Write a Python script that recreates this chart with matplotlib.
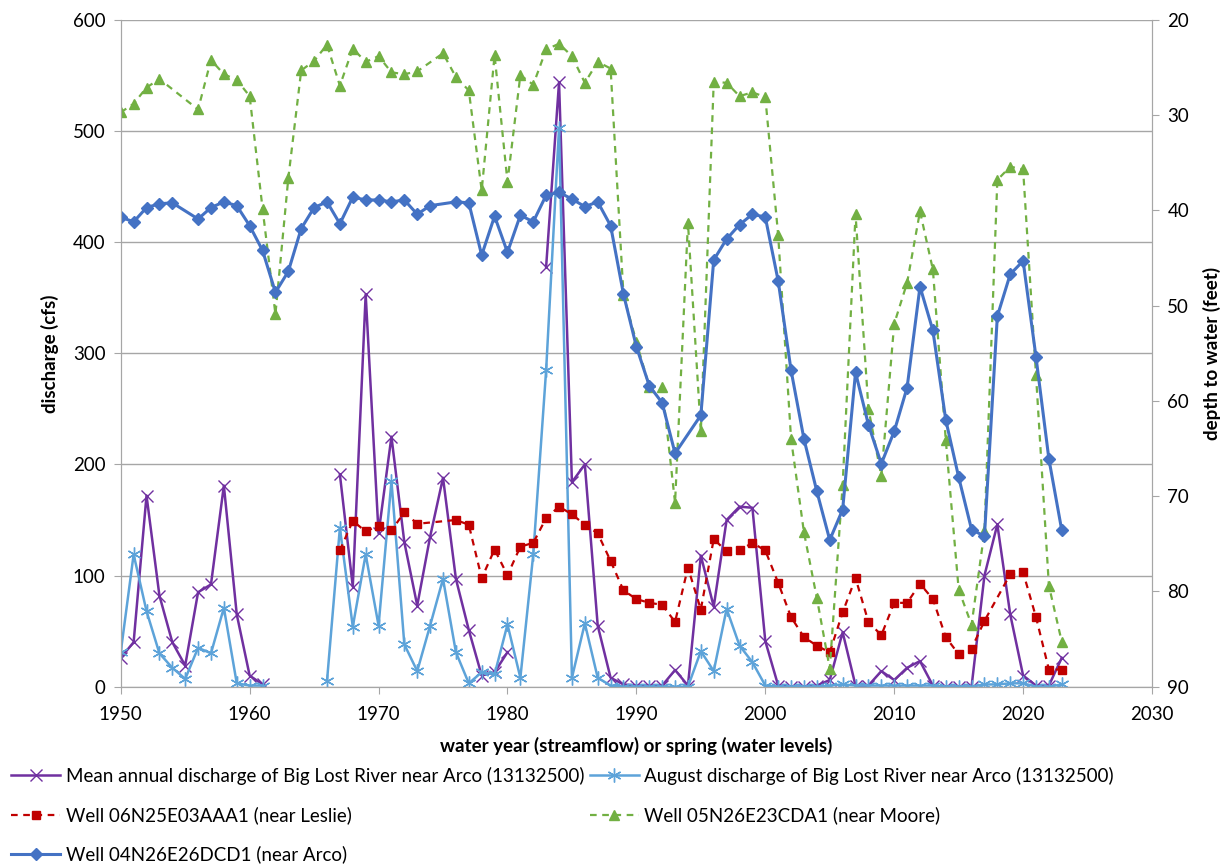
import numpy as np
import matplotlib
matplotlib.use("Agg")
import matplotlib.pyplot as plt

plt.rcParams['font.family'] = ['Lato', 'DejaVu Sans']

nan = np.nan

# Streamflow, water years 1950-2023 (cfs), gaps = no record
flow_years = list(range(1950, 2024))
mean_annual = [26, 40, 172, 82, 40, 19, 85, 92, 181, 65, 10, 2,
               nan, nan, nan, nan, nan,
               191, 90, 353, 138, 225, 130, 73, 135, 188, 97, 51, 10, 13, 31,
               nan, nan,
               378, 544, 184, 200, 55, 8, 2, 1, 1, 1, 15, 1, 118, 72, 150, 162, 161, 41,
               1, 0, 0, 1, 6, 49, 1, 1, 14, 6, 17, 23, 1, 0, 0, 0, 100, 146, 65, 10, 1, 1, 26]
august = [31, 119, 68, 30, 17, 7, 35, 30, 71, 3, 1, 1,
          nan, nan, nan, nan,
          5, 143, 54, 119, 55, 185, 38, 14, 55, 97, 31, 3, 13, 11, 56, 8, 119, 285, 503,
          8, 57, 8, 1, 0, 0, 0, 0, 0, 0, 32, 14, 70, 37, 22, 1,
          0, 0, 0, 0, 1, 2, 1, 1, 1, 1, 1, 1, 1, 0, 0, 0, 2, 2, 3, 3, 0, 0, 2]

# Well 06N25E03AAA1 (near Leslie), depth to water (feet)
leslie_years = [1967, 1968, 1969, 1970, 1971, 1972, 1973, 1976, 1977, 1978, 1979, 1980,
                1981, 1982, 1983, 1984, 1985, 1986, 1987, 1988, 1989, 1990, 1991, 1992,
                1993, 1994, 1995, 1996, 1997, 1998, 1999, 2000, 2001, 2002, 2003, 2004,
                2005, 2006, 2007, 2008, 2009, 2010, 2011, 2012, 2013, 2014, 2015, 2016,
                2017, 2019, 2020, 2021, 2022, 2023]
leslie = [75.7, 72.6, 73.7, 73.1, 73.6, 71.7, 72.9, 72.5, 73.0, 78.6, 75.6, 78.3,
          75.3, 74.9, 72.3, 71.1, 71.9, 73.0, 73.9, 76.8, 79.9, 80.8, 81.2, 81.4,
          83.2, 77.5, 81.9, 74.5, 75.8, 75.7, 74.9, 75.7, 79.1, 82.7, 84.8, 85.7,
          86.4, 82.2, 78.6, 83.2, 84.6, 81.2, 81.2, 79.2, 80.8, 84.8, 86.6, 86.0,
          83.1, 78.2, 78.0, 82.7, 88.2, 88.2]

# Well 05N26E23CDA1 (near Moore)
moore_years = [1950, 1951, 1952, 1953, 1956, 1957, 1958, 1959, 1960, 1961, 1962, 1963,
               1964, 1965, 1966, 1967, 1968, 1969, 1970, 1971, 1972, 1973, 1975, 1976,
               1977, 1978, 1979, 1980, 1981, 1982, 1983, 1984, 1985, 1986, 1987, 1988,
               1989, 1990, 1991, 1992, 1993, 1994, 1995, 1996, 1997, 1998, 1999, 2000,
               2001, 2002, 2003, 2004, 2005, 2006, 2007, 2008, 2009, 2010, 2011, 2012,
               2013, 2014, 2015, 2016, 2017, 2018, 2019, 2020, 2021, 2022, 2023]
moore = [29.7, 28.8, 27.1, 26.2, 29.4, 24.2, 25.7, 26.3, 28.0, 39.8, 50.9, 36.6,
         25.3, 24.3, 22.6, 26.9, 23.0, 24.4, 23.8, 25.5, 25.7, 25.4, 23.5, 26.0,
         27.4, 37.9, 23.7, 37.0, 25.8, 26.8, 23.1, 22.5, 23.8, 26.6, 24.4, 25.1,
         48.9, 53.8, 58.5, 58.5, 70.7, 41.3, 63.2, 26.5, 26.6, 28.0, 27.6, 28.1,
         42.6, 64.0, 73.8, 80.7, 88.1, 68.8, 40.4, 60.8, 67.9, 51.9, 47.6, 40.1,
         46.2, 64.1, 79.8, 83.5, 73.7, 36.8, 35.4, 35.7, 57.3, 79.4, 85.3]

# Well 04N26E26DCD1 (near Arco)
arco_years = [1950, 1951, 1952, 1953, 1954, 1956, 1957, 1958, 1959, 1960, 1961, 1962,
              1963, 1964, 1965, 1966, 1967, 1968, 1969, 1970, 1971, 1972, 1973, 1974,
              1976, 1977, 1978, 1979, 1980, 1981, 1982, 1983, 1984, 1985, 1986, 1987,
              1988, 1989, 1990, 1991, 1992, 1993, 1995, 1996, 1997, 1998, 1999, 2000,
              2001, 2002, 2003, 2004, 2005, 2006, 2007, 2008, 2009, 2010, 2011, 2012,
              2013, 2014, 2015, 2016, 2017, 2018, 2019, 2020, 2021, 2022, 2023]
arco = [40.7, 41.2, 39.7, 39.3, 39.2, 40.9, 39.7, 39.1, 39.5, 41.6, 44.2, 48.6,
        46.4, 41.9, 39.7, 39.1, 41.4, 38.6, 38.9, 38.9, 39.1, 38.9, 40.4, 39.5,
        39.1, 39.2, 44.7, 40.6, 44.4, 40.5, 41.2, 38.4, 38.1, 38.8, 39.6, 39.1,
        41.6, 48.8, 54.3, 58.4, 60.2, 65.5, 61.5, 45.2, 43.0, 41.5, 40.4, 40.7,
        47.4, 56.8, 64.0, 69.5, 74.6, 71.4, 57.0, 62.5, 66.6, 63.2, 58.6, 48.0,
        52.6, 62.0, 68.0, 73.5, 74.2, 51.1, 46.7, 45.3, 55.4, 66.1, 73.6]

fig = plt.figure(figsize=(12.27, 8.67), dpi=100)
ax = fig.add_axes([0.0984, 0.208, 0.8405, 0.769])
ax2 = ax.twinx()

gray = '#A6A6A6'
fs = 13.5

l1, = ax.plot(flow_years, mean_annual, color='#7030A0', lw=1.8, marker='x',
              ms=9, mew=1.0, label='Mean annual discharge of Big Lost River near Arco (13132500)')
l2, = ax.plot(flow_years, august, color='#5DA3D9', lw=1.8, marker=(6, 2, 0),
              ms=10, mew=1.0, label='August discharge of Big Lost River near Arco (13132500)')

l3, = ax2.plot(leslie_years, leslie, color='#C00000', lw=1.6, ls=(0, (3, 2.5)),
               marker='s', ms=6, label='Well 06N25E03AAA1 (near Leslie)')
l4, = ax2.plot(moore_years, moore, color='#72B043', lw=1.6, ls=(0, (3, 2.5)),
               marker='^', ms=7, label='Well 05N26E23CDA1 (near Moore)')
l5, = ax2.plot(arco_years, arco, color='#4472C4', lw=2.2, marker='D', ms=6.5,
               label='Well 04N26E26DCD1 (near Arco)')

ax.set_xlim(1950, 2030)
ax.set_ylim(0, 600)
ax2.set_ylim(90, 20)
ax.set_xticks(range(1950, 2031, 10))
ax.set_yticks(range(0, 601, 100))
ax2.set_yticks(range(20, 91, 10))

ax.yaxis.grid(True, color=gray, lw=1.0)
ax.set_axisbelow(True)
for a in (ax, ax2):
    for s in a.spines.values():
        s.set_color(gray)
    a.tick_params(colors=gray, labelcolor='black', labelsize=fs, length=5, pad=6)
ax.tick_params(axis='x', pad=9)
ax.spines['top'].set_visible(False)
ax2.spines['top'].set_visible(False)

ax.set_xlabel('water year (streamflow) or spring (water levels)', fontsize=fs,
              fontweight='bold', labelpad=10)
ax.set_ylabel('discharge (cfs)', fontsize=fs, fontweight='bold', labelpad=10)
ax2.set_ylabel('depth to water (feet)', fontsize=fs, fontweight='bold', labelpad=10)

fig.legend(handles=[l1, l3, l5, l2, l4], loc='lower left', bbox_to_anchor=(0.0, -0.009),
           ncol=2, frameon=False, fontsize=fs, handlelength=2.6, handletextpad=0.3,
           columnspacing=0.3, labelspacing=1.15, borderaxespad=0.2)

fig.savefig('out.png', dpi=100)
